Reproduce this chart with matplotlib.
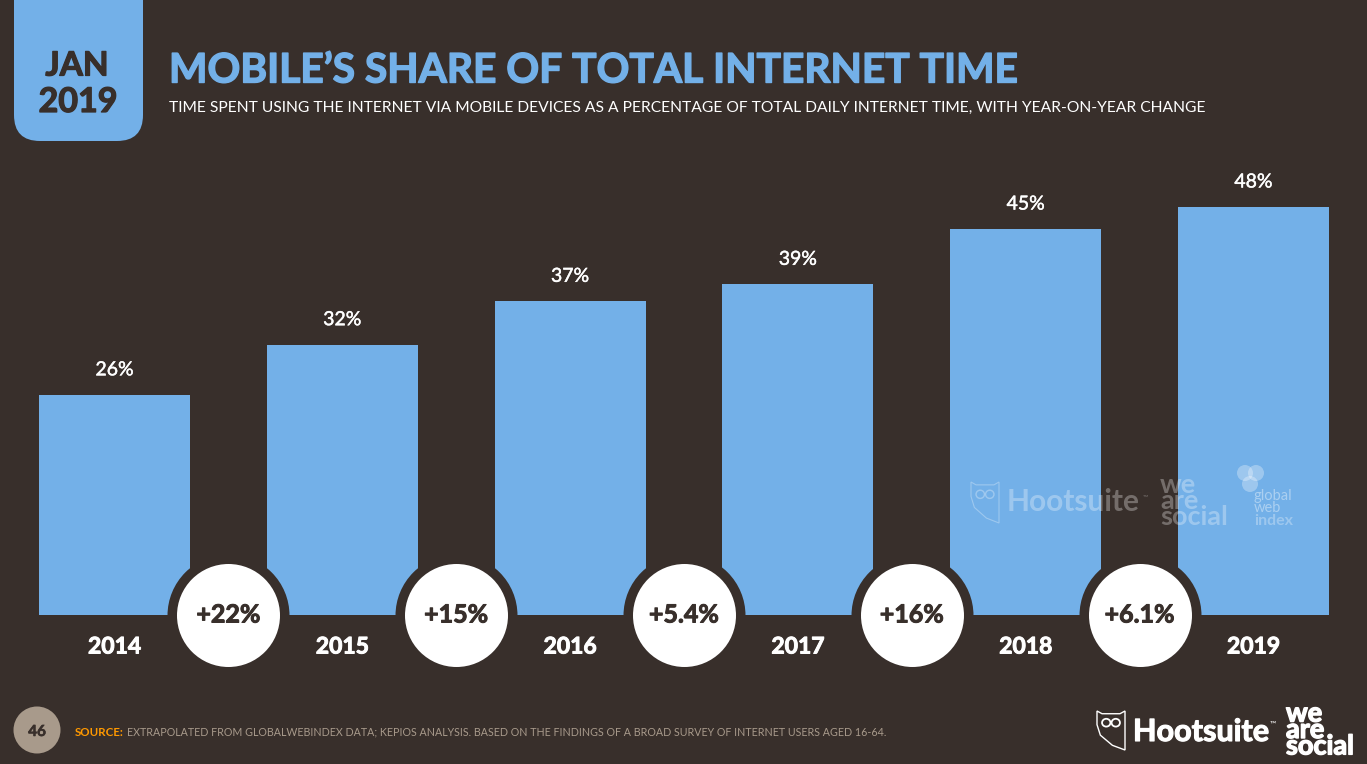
import matplotlib
matplotlib.use('Agg')
import matplotlib.pyplot as plt
import matplotlib.patheffects as pe
from matplotlib.patches import FancyBboxPatch, Circle, Polygon, Ellipse

years = ['2014', '2015', '2016', '2017', '2018', '2019']
shares = [25.9, 31.8, 36.9, 38.9, 45.4, 48.0]
share_labels = ['26%', '32%', '37%', '39%', '45%', '48%']
changes = ['+22%', '+15%', '+5.4%', '+16%', '+6.1%']

BG = '#382F2B'
BLUE = '#73B0E8'
TAN = '#A89A8B'
W, H = 1367, 764

plt.rcParams['font.family'] = ['Lato', 'DejaVu Sans']
fig = plt.figure(figsize=(W / 100, H / 100), dpi=100, facecolor=BG)


def heavy(color, lw=0.7, alpha=1.0):
    # Lato bold is lighter than the original face, so thicken it a little
    return [pe.withStroke(linewidth=lw, foreground=color, alpha=alpha)]


# pixel overlay for header and footer
over = fig.add_axes([0, 0, 1, 1], zorder=3)
over.set_xlim(0, W)
over.set_ylim(H, 0)
over.axis('off')

# chart area, left/right edges are the outer bar edges
left, right, top, bottom = 39, 1329, 207, 615
ax = fig.add_axes([left / W, 1 - bottom / H, (right - left) / W, (bottom - top) / H], zorder=2)
ax.set_facecolor('none')
ax.axis('off')
bar_w = 0.663
xs = list(range(len(years)))
ax.bar(xs, shares, width=bar_w, color=BLUE)
ax.set_xlim(-bar_w / 2, xs[-1] + bar_w / 2)
ax.set_ylim(0, 48)

for x, v, lab, yr in zip(xs, shares, share_labels, years):
    ax.annotate(lab, (x, v), xytext=(0, 25), textcoords='offset pixels', ha='center', va='center',
                color='white', fontsize=14, annotation_clip=False, path_effects=heavy('white', 0.3))
    ax.annotate(yr, (x, 0), xytext=(0, -32), textcoords='offset pixels', ha='center', va='center',
                color='white', fontsize=16.5, fontweight='bold', annotation_clip=False,
                path_effects=heavy('white'))

# change bubbles between the bars
mids = [x + 0.5 for x in xs[:-1]]
ax.scatter(mids, [0] * len(mids), s=(122 * 0.72) ** 2, color=BG, linewidths=0, clip_on=False, zorder=3)
ax.scatter(mids, [0] * len(mids), s=(103 * 0.72) ** 2, color='white', linewidths=0, clip_on=False, zorder=4)
for m, c in zip(mids, changes):
    ax.text(m, 0, c, ha='center', va='center', color=BG, fontsize=18, fontweight='bold', zorder=5,
            clip_on=False, path_effects=heavy(BG))

# date tab
over.add_patch(FancyBboxPatch((14, -60), 129, 201, boxstyle='round,pad=0,rounding_size=26',
                              facecolor=BLUE, edgecolor='none'))
over.text(77, 66, 'JAN', ha='center', va='center', color=BG, fontsize=24, fontweight='bold',
          path_effects=heavy(BG, 0.9))
over.text(78, 102, '2019', ha='center', va='center', color=BG, fontsize=24.5, fontweight='bold',
          path_effects=heavy(BG, 0.9))

over.text(169, 71, 'MOBILE’S SHARE OF TOTAL INTERNET TIME', ha='left', va='center', color=BLUE,
          fontsize=29.3, fontweight='bold', path_effects=heavy(BLUE, 1.0))
over.text(169, 108, 'TIME SPENT USING THE INTERNET VIA MOBILE DEVICES AS A PERCENTAGE OF TOTAL DAILY INTERNET TIME, WITH YEAR-ON-YEAR CHANGE',
          ha='left', va='center', color='white', fontsize=11.25)

# footer
over.add_patch(Circle((37, 730), 23.5, facecolor=TAN, edgecolor='none'))
over.text(37, 732, '46', ha='center', va='center', color=BG, fontsize=11, fontweight='bold',
          path_effects=heavy(BG, 0.4))
over.text(75, 732, 'SOURCE:', ha='left', va='center', color='#FF9900', fontsize=8.3, fontweight='bold')
over.text(127, 732, 'EXTRAPOLATED FROM GLOBALWEBINDEX DATA; KEPIOS ANALYSIS. BASED ON THE FINDINGS OF A BROAD SURVEY OF INTERNET USERS AGED 16-64.',
          ha='left', va='center', color=TAN, fontsize=7.7)


def owl(a, x, y, w, h, lw, alpha=1.0):
    # small shield outline with two eyes
    pts = [(x, y), (x + w * 0.18, y + h * 0.07), (x + w * 0.82, y + h * 0.07), (x + w, y),
           (x + w, y + h), (x + w * 0.55, y + h * 0.88), (x + w * 0.12, y + h * 0.62), (x, y + h * 0.35)]
    a.add_patch(Polygon(pts, closed=True, fill=False, edgecolor='white', linewidth=lw, alpha=alpha))
    for ex in (0.33, 0.67):
        a.add_patch(Ellipse((x + w * ex, y + h * 0.3), w * 0.3, h * 0.2, fill=False, edgecolor='white',
                            linewidth=lw * 1.3, alpha=alpha))


# footer logos
owl(over, 1097, 711, 28, 39, 1.0)
over.text(1133, 732, 'Hootsuite', ha='left', va='center', color='white', fontsize=22, fontweight='bold',
          path_effects=heavy('white', 0.8))
over.text(1270, 724, '™', ha='left', va='center', color='white', fontsize=6)
over.text(1286, 730, 'we\nare\nsocial', ha='left', va='center', color='white', fontsize=19.5, fontweight='bold',
          linespacing=0.62, path_effects=heavy('white', 1.0))

# watermark
wm = 0.3
owl(over, 971, 482, 28, 41, 0.8, wm)
over.text(1007, 502, 'Hootsuite', ha='left', va='center', color='white', fontsize=21.5, fontweight='bold', alpha=wm)
over.text(1143, 497, '™', ha='left', va='center', color='white', fontsize=5, alpha=wm)
over.text(1160, 501, 'we\nare\nsocial', ha='left', va='center', color='white', fontsize=19.5, fontweight='bold',
          linespacing=0.62, alpha=wm)
over.add_patch(Circle((1245, 473), 8, facecolor='white', edgecolor='none', alpha=wm))
over.add_patch(Circle((1256, 473), 8, facecolor='white', edgecolor='none', alpha=wm))
over.add_patch(Circle((1250, 484), 8, facecolor='white', edgecolor='none', alpha=wm))
over.text(1254, 502, 'global\nweb', ha='left', va='center', color='white', fontsize=10.5, alpha=0.4, linespacing=0.75)
over.text(1254, 521, 'index', ha='left', va='center', color='white', fontsize=11.5, fontweight='bold', alpha=wm)

fig.savefig('out.png', dpi=100, facecolor=BG)
